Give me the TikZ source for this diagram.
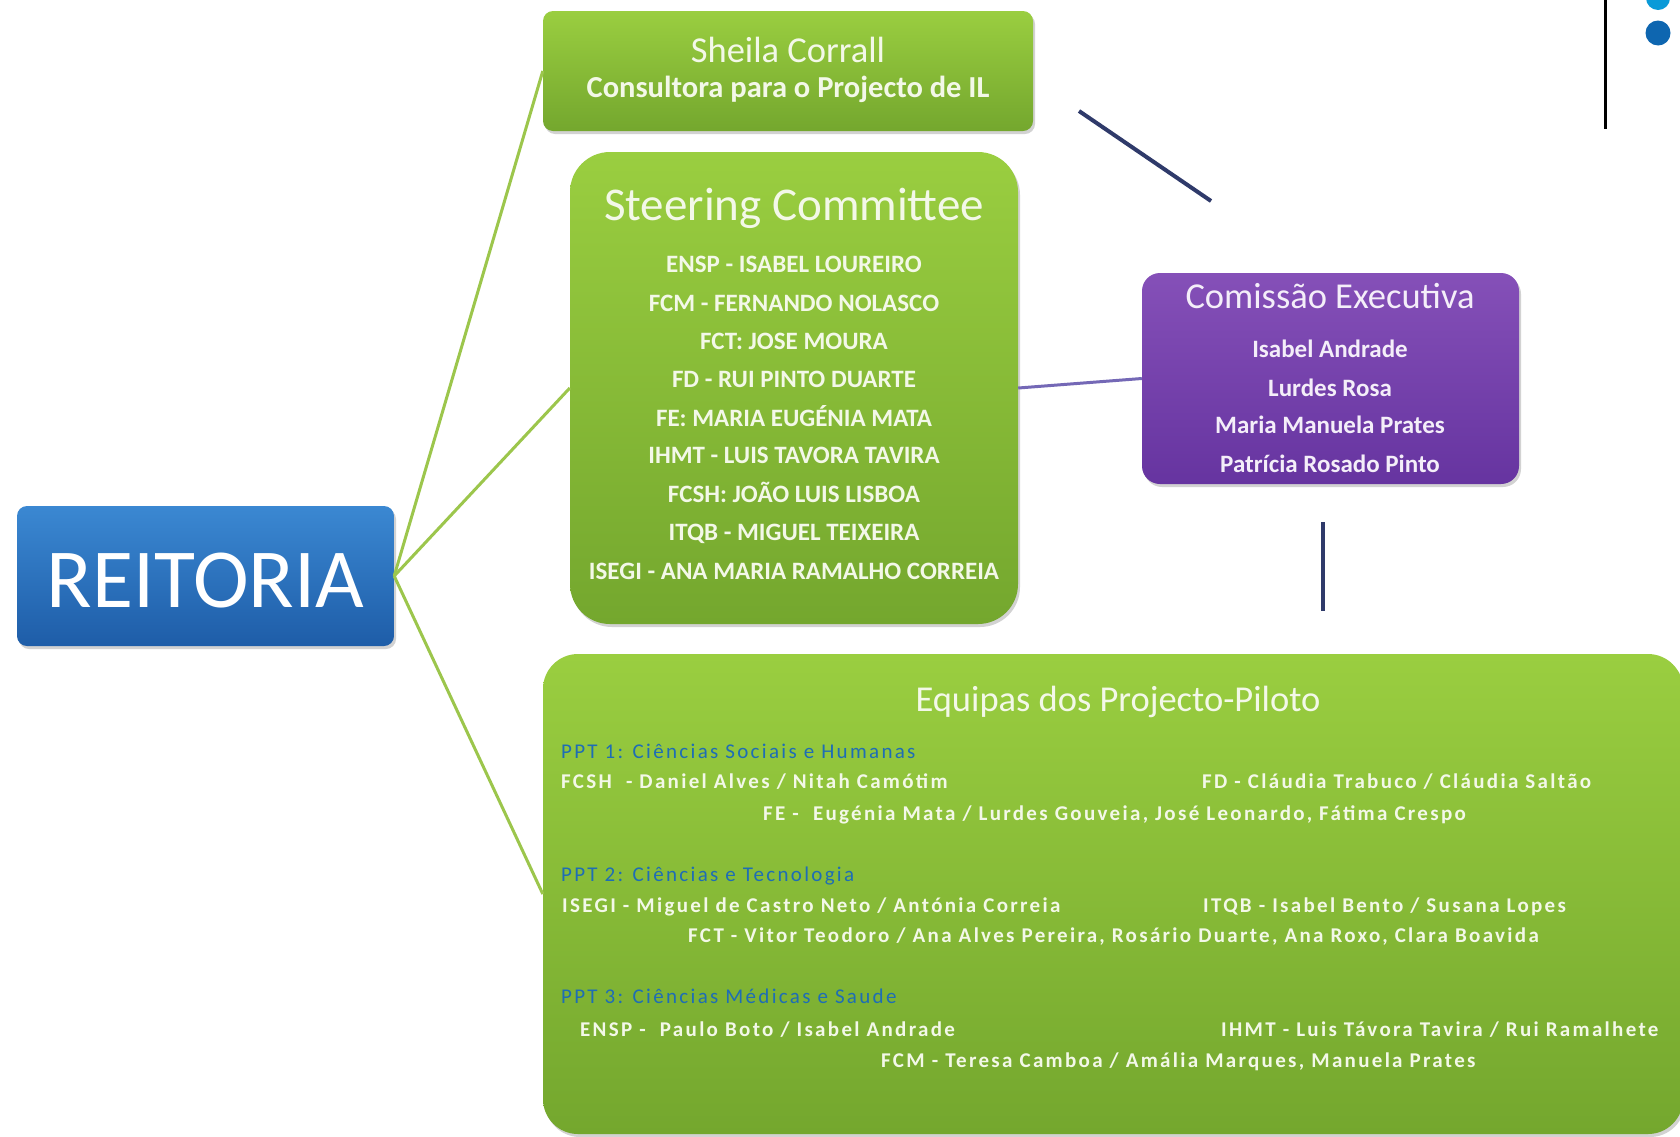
\documentclass[tikz,border=0pt]{standalone}
\usepackage{fontspec}
\setmainfont{Carlito}
\usetikzlibrary{shadows}
\definecolor{greenT}{HTML}{9ACE40}
\definecolor{greenB}{HTML}{74A72E}
\definecolor{purpT}{HTML}{8550B8}
\definecolor{purpB}{HTML}{6634A0}
\definecolor{blueT}{HTML}{3B88D2}
\definecolor{blueB}{HTML}{1E5DA8}
\definecolor{gline}{HTML}{9CC64C}
\definecolor{pline}{HTML}{7468B6}
\definecolor{nline}{HTML}{2F3A6A}
\definecolor{txtw}{HTML}{F3F8E8}
\definecolor{txtp}{HTML}{F4EEF9}
\definecolor{ppt}{HTML}{1E6DB5}
\definecolor{dotL}{HTML}{0A9AD8}
\definecolor{dotD}{HTML}{0E66B0}
\tikzset{
  boxbase/.style={inner sep=0pt, drop shadow={shadow xshift=2pt, shadow yshift=-3pt, opacity=.35}},
  greenbox/.style={boxbase, rounded corners=#1, top color=greenT, bottom color=greenB},
  purpbox/.style={boxbase, rounded corners=18pt, top color=purpT, bottom color=purpB},
  bluebox/.style={boxbase, rounded corners=10pt, top color=blueT, bottom color=blueB},
  txt/.style={inner sep=0pt, anchor=base},
  wtxt/.style={txt, text=txtw, font=\bfseries\fontsize{#1}{#1}\selectfont},
  etxt/.style={inner sep=0pt, anchor=base west, text=txtw, font=\bfseries\fontsize{21}{21}\selectfont\addfontfeature{LetterSpace=11}},
  ptxt/.style={inner sep=0pt, anchor=base west, text=ppt, font=\fontsize{21}{21}\selectfont\addfontfeature{LetterSpace=11}},
  conn/.style={line width=3pt, color=gline},
}
\begin{document}
\begin{tikzpicture}[x=1pt,y=-1pt]
\useasboundingbox (0,0) rectangle (1680,1136);
\fill[white] (0,0) rectangle (1680,1136);

% top-right decoration
\draw[line width=3pt, black] (1605,0) -- (1605,129);
\fill[dotL] (1658,-2) circle (12pt);
\fill[dotD] (1658,33) circle (12.5pt);

% boxes
\node[bluebox, minimum width=377pt, minimum height=140pt] (reit) at (205.5,576) {};
\node[greenbox=10pt, minimum width=490pt, minimum height=120pt] (sheila) at (788,71) {};
\node[greenbox=40pt, minimum width=448pt, minimum height=472pt] (steer) at (794,388) {};
\node[purpbox, minimum width=377pt, minimum height=211pt] (comex) at (1330.5,378.5) {};
\node[greenbox=35pt, minimum width=1140pt, minimum height=480pt] (equip) at (1113,894) {};

% connectors
\draw[conn] (reit.east) -- (sheila.west);
\draw[conn] (reit.east) -- (steer.west);
\draw[conn] (reit.east) -- (equip.west);
\draw[line width=3pt, color=pline] (steer.east) -- (comex.west);
\coordinate (n1) at (1079,111);
\coordinate (n2) at (1211,201);
\coordinate (v1) at (1323,522);
\coordinate (v2) at (1323,611);
\draw[line width=4pt, color=nline] (n1) -- (n2);
\draw[line width=4pt, color=nline] (v1) -- (v2);

% REITORIA
\node[txt, text=white, font=\fontsize{84}{84}\selectfont] (reitT) at (205.5,607) {REITORIA};

% Sheila
\node[txt, text=txtw, font=\fontsize{36.5}{36.5}\selectfont] (sh1) at (788,62) {Sheila Corrall};
\node[wtxt=30.5] (sh2) at (788,97) {Consultora para o Projecto de IL};

% Steering
\node[txt, text=txtw, font=\fontsize{47}{47}\selectfont] (stT) at (794,220) {Steering Committee};
\node[wtxt=25] (st1) at (794,272) {ENSP - ISABEL LOUREIRO};
\node[wtxt=25] (st2) at (794,311) {FCM - FERNANDO NOLASCO};
\node[wtxt=25] (st3) at (794,349) {FCT: JOSE MOURA};
\node[wtxt=25] (st4) at (794,387) {FD - RUI PINTO DUARTE};
\node[wtxt=25] (st5) at (794,426) {FE: MARIA EUGÉNIA MATA};
\node[wtxt=25] (st6) at (794,463) {IHMT - LUIS TAVORA TAVIRA};
\node[wtxt=25] (st7) at (794,502) {FCSH: JOÃO LUIS LISBOA};
\node[wtxt=25] (st8) at (794,540) {ITQB - MIGUEL TEIXEIRA};
\node[wtxt=25] (st9) at (794,579) {ISEGI - ANA MARIA RAMALHO CORREIA};

% Comissao
\node[txt, text=txtp, font=\fontsize{36.5}{36.5}\selectfont] (cT) at (1330,308) {Comissão Executiva};
\node[txt, text=txtp, font=\bfseries\fontsize{25}{25}\selectfont] (c1) at (1330,357) {Isabel Andrade};
\node[txt, text=txtp, font=\bfseries\fontsize{25}{25}\selectfont] (c2) at (1330,396) {Lurdes Rosa};
\node[txt, text=txtp, font=\bfseries\fontsize{25}{25}\selectfont] (c3) at (1330,433) {Maria Manuela Prates};
\node[txt, text=txtp, font=\bfseries\fontsize{25}{25}\selectfont] (c4) at (1330,472) {Patrícia Rosado Pinto};

% Equipas
\node[txt, text=txtw, font=\fontsize{36.5}{36.5}\selectfont] (eT) at (1118,711) {Equipas dos Projecto-Piloto};
\node[ptxt] (p1) at (561,758.5) {PPT 1: Ciências Sociais e Humanas};
\node[etxt] (e1) at (561,788.5) {FCSH \ - Daniel Alves / Nitah Camótim};
\node[etxt] (e2) at (1202,788.5) {FD - Cláudia Trabuco / Cláudia Saltão};
\node[etxt] (e3) at (763,820.5) {FE - \ Eugénia Mata / Lurdes Gouveia, José Leonardo, Fátima Crespo};
\node[ptxt] (p2) at (561,881.5) {PPT 2: Ciências e Tecnologia};
\node[etxt] (e4) at (562,912.5) {ISEGI - Miguel de Castro Neto / Antónia Correia};
\node[etxt] (e5) at (1203,912.5) {ITQB - Isabel Bento / Susana Lopes};
\node[etxt] (e6) at (688,942.5) {FCT - Vitor Teodoro / Ana Alves Pereira, Rosário Duarte, Ana Roxo, Clara Boavida};
\node[ptxt] (p3) at (561,1003.5) {PPT 3: Ciências Médicas e Saude};
\node[etxt] (e7) at (580,1036.5) {ENSP - \ Paulo Boto / Isabel Andrade};
\node[etxt] (e8) at (1221,1036.5) {IHMT - Luis Távora Tavira / Rui Ramalhete};
\node[etxt] (e9) at (881,1067.5) {FCM - Teresa Camboa / Amália Marques, Manuela Prates};
\end{tikzpicture}
\end{document}
